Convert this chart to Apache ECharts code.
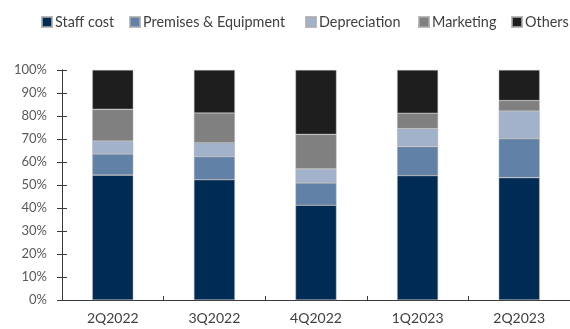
<!DOCTYPE html>
<html><head><meta charset="utf-8">
<script src="https://cdn.jsdelivr.net/npm/echarts@6/dist/echarts.min.js"></script>
<style>html,body{margin:0;padding:0;background:#fff}#c{width:570px;height:329px}</style>
</head><body><div id="c"></div>
<script>
const categories = ['2Q2022','3Q2022','4Q2022','1Q2023','2Q2023'];
const staffCost = [54.3, 52.3, 41.2, 54.1, 53.2];
const premises = [9.2, 10.0, 9.7, 12.6, 16.9];
const depreciation = [5.6, 6.1, 6.1, 7.8, 12.1];
const marketing = [13.8, 12.9, 15.0, 6.7, 4.5];
const others = [17.1, 18.7, 28.0, 18.8, 13.3];
const seriesNames = ['Staff cost','Premises & Equipment','Depreciation','Marketing','Others'];
const seriesData = [staffCost, premises, depreciation, marketing, others];
const colors = ['#002B55','#6281A6','#A2B2CB','#808080','#1E1E1E'];
const yTicks = [0,10,20,30,40,50,60,70,80,90,100];

const FONT = 'Lato';
const legendLeft = [41, 129, 305, 418, 511];
const chart = echarts.init(document.getElementById('c'), null, {renderer:'canvas'});
const yBase = {
  type:'value', min:0, max:100, interval:10, position:'left',
  splitLine:{show:false},
  axisLine:{show:true, lineStyle:{color:'#3a3a3a', width:1}},
};
chart.setOption({
  animation:false,
  color: colors,
  textStyle:{fontFamily:FONT},
  legend: seriesNames.map((n,i)=>({
    left:legendLeft[i], top:15, padding:0, itemWidth:10, itemHeight:10, itemGap:0,
    icon:'rect',
    textStyle:{fontFamily:FONT, fontSize:14.4, color:'#404040', padding:[0,0,0,-2]},
    data:[n]
  })),
  grid:{left:62, right:-8, top:70, bottom:29, containLabel:false},
  xAxis:{
    type:'category', data:categories,
    axisLine:{lineStyle:{color:'#3a3a3a', width:1}},
    axisTick:{show:true, inside:true, length:4, lineStyle:{color:'#3a3a3a'}},
    axisLabel:{fontFamily:FONT, fontSize:14, color:'#404040', margin:11}
  },
  yAxis:[
    Object.assign({}, yBase, {
      axisTick:{show:true, inside:false, length:5, lineStyle:{color:'#3a3a3a'}},
      axisLabel:{fontFamily:FONT, fontSize:13, color:'#595959', margin:15,
        formatter: v => yTicks.includes(v) ? v + '%' : ''}
    }),
    Object.assign({}, yBase, {
      axisTick:{show:true, inside:true, length:5, lineStyle:{color:'#3a3a3a'}},
      axisLabel:{show:false}
    })
  ],
  series: seriesNames.map((n,i)=>({
    name:n, type:'bar', stack:'total', barWidth:41,
    data: seriesData[i],
    itemStyle:{color:colors[i], borderColor:'rgba(170,170,170,0.8)', borderWidth:0.6}
  }))
});
</script></body></html>
